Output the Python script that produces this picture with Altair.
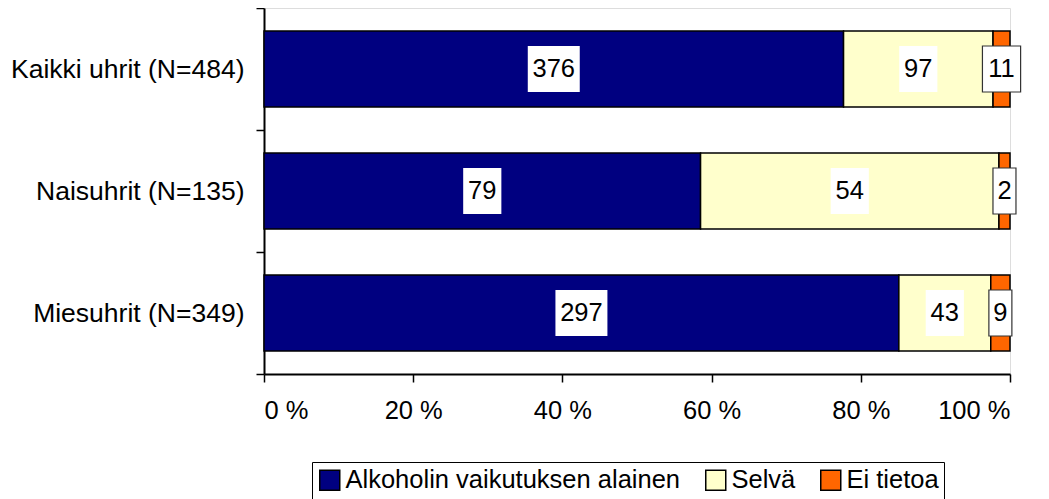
import altair as alt
import pandas as pd

groups = ["Kaikki uhrit (N=484)", "Naisuhrit (N=135)", "Miesuhrit (N=349)"]
series = ["Alkoholin vaikutuksen alainen", "Selvä", "Ei tietoa"]
alkoholi = [376, 79, 297]
selva = [97, 54, 43]
ei_tietoa = [11, 2, 9]
colors = ["#000080", "#FFFFCC", "#FF6600"]
x_ticks = [0, 20, 40, 60, 80, 100]

rows = []
for gi, g in enumerate(groups):
    for si, (s, vals) in enumerate(zip(series, [alkoholi, selva, ei_tietoa])):
        rows.append({"group": g, "series": s, "order": si, "value": vals[gi]})
df = pd.DataFrame(rows)

FONT = "Liberation Sans"

base = alt.Chart(df).transform_joinaggregate(
    total="sum(value)", groupby=["group"]
).transform_calculate(
    pct="datum.value / datum.total * 100"
).transform_stack(
    stack="pct", groupby=["group"], as_=["x0", "x1"], sort=[alt.SortField("order")]
).transform_calculate(
    mid="(datum.x0 + datum.x1) / 2",
    digits="'d' + toString(length(toString(datum.value)))",
)

yscale = alt.Scale(paddingInner=0, paddingOuter=0)
yenc = alt.Y(
    "group:N",
    sort=groups,
    title=None,
    scale=yscale,
    axis=alt.Axis(
        tickBand="extent", tickSize=8, tickColor="black", tickWidth=1.5,
        domainColor="black", domainWidth=2, labelFontSize=26.5, labelFont=FONT,
        labelColor="black", labelPadding=12, grid=False, labelLimit=0,
    ),
)
xscale = alt.Scale(domain=[0, 100], nice=False)
xaxis = alt.Axis(
    values=x_ticks, labelExpr="datum.value + ' %'", tickSize=8, tickColor="black",
    tickWidth=1.5, domainColor="black", domainWidth=2, labelFontSize=25.5,
    labelFont=FONT, labelColor="black", labelPadding=16, grid=False,
)

bars = base.mark_bar(
    stroke="black", strokeWidth=1.5, height=alt.RelativeBandSize(0.624)
).encode(
    x=alt.X("x0:Q", scale=xscale, axis=xaxis, title=None),
    x2="x1:Q",
    y=yenc,
    color=alt.Color(
        "series:N",
        scale=alt.Scale(domain=series, range=colors),
        sort=series,
        legend=alt.Legend(
            title=None, orient="none", legendX=48, legendY=454, direction="horizontal",
            columns=3, strokeColor="black", padding=5, symbolType="square",
            symbolSize=400, symbolStrokeColor="black", symbolStrokeWidth=1.5,
            labelFontSize=25.5, labelFont=FONT, labelColor="black", columnPadding=21,
            labelOffset=3, fillColor="white", symbolOpacity=1, labelLimit=0,
        ),
    ),
    order=alt.Order("order:Q"),
)

shape_scale = alt.Scale(
    domain=["d1", "d2", "d3"],
    range=[
        "M-0.5,-1L0.5,-1L0.5,1L-0.5,1Z",
        "M-0.83,-1L0.83,-1L0.83,1L-0.83,1Z",
        "M-1.13,-1L1.13,-1L1.13,1L-1.13,1Z",
    ],
)

boxes_plain = base.transform_filter("datum.order < 2").mark_point(
    filled=True, fill="white", opacity=1, size=2116, strokeWidth=0
).encode(
    x=alt.X("mid:Q", scale=xscale),
    y=alt.Y("group:N", sort=groups, scale=yscale),
    shape=alt.Shape("digits:N", scale=shape_scale, legend=None),
)

boxes_border = base.transform_filter("datum.order == 2").mark_point(
    filled=True, fill="white", opacity=1, size=2116, stroke="#333333",
    strokeWidth=1.2, strokeOpacity=1,
).encode(
    x=alt.X("mid:Q", scale=xscale),
    y=alt.Y("group:N", sort=groups, scale=yscale),
    shape=alt.Shape("digits:N", scale=shape_scale, legend=None),
)

labels = base.mark_text(fontSize=25.5, font=FONT, color="black", baseline="middle", align="center").encode(
    x=alt.X("mid:Q", scale=xscale),
    y=alt.Y("group:N", sort=groups, scale=yscale),
    text="value:Q",
)

chart = alt.layer(bars, boxes_plain, boxes_border, labels).properties(
    width=746, height=366,
    autosize=alt.AutoSizeParams(type="none"),
    padding={"left": 256, "top": 0, "right": 31, "bottom": 125},
).configure_view(
    stroke="black", strokeWidth=2
).configure(background="white")

chart.save("out.html", embed_options={"renderer": "svg", "actions": False})
